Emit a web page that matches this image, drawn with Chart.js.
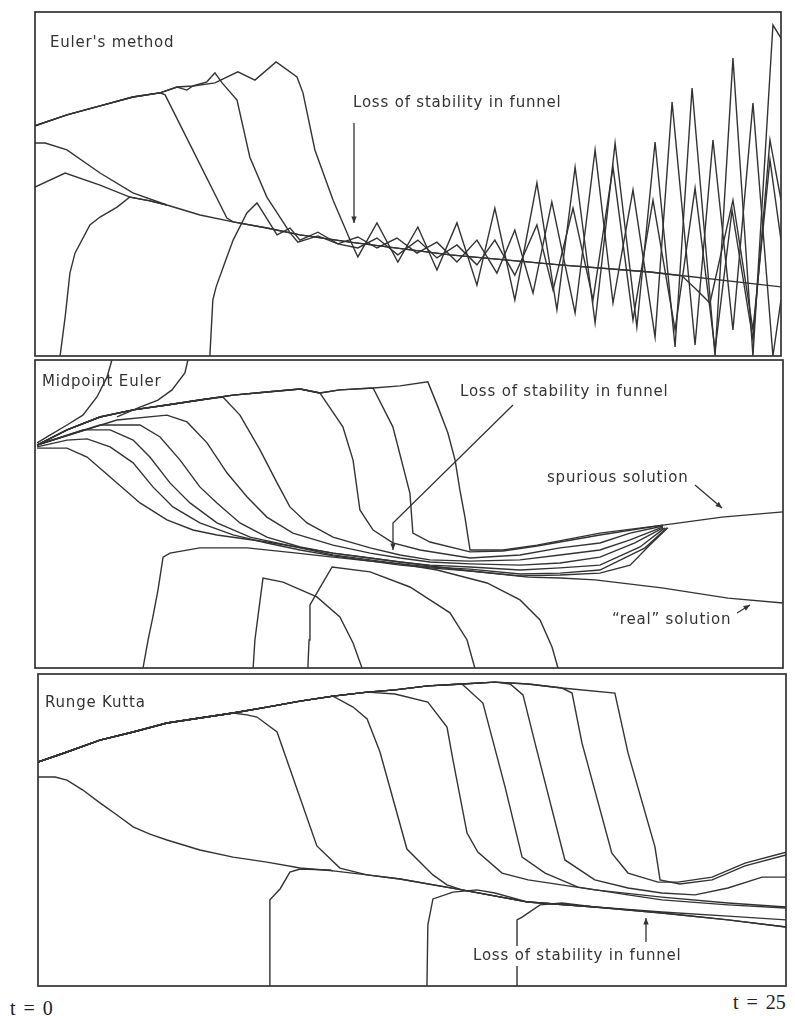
<!DOCTYPE html>
<html>
<head>
<meta charset="utf-8">
<script src="https://cdn.jsdelivr.net/npm/chart.js@4.4.1/dist/chart.umd.min.js"></script>
<style>
  body { margin: 0; background: #fff; width: 795px; height: 1016px; position: relative; overflow: hidden; }
  canvas { position: absolute; }
  .tlabel { position: absolute; font-family: "Liberation Serif", serif; font-size: 20px; color: #222; word-spacing: 3px; line-height: 20px; }
</style>
</head>
<body>
<canvas id="euler" width="750" height="348" style="left:33px;top:10px"></canvas>
<canvas id="midpoint" width="752" height="312" style="left:33px;top:358px"></canvas>
<canvas id="rk" width="752" height="316" style="left:36px;top:672px"></canvas>
<div class="tlabel" style="left:10px;top:998px">t = 0</div>
<div class="tlabel" style="left:733px;top:992px">t = 25</div>
<script>
// x is time t (0..25), y is the solution value on an arbitrary 0..100 scale per panel

// ---- Euler's method ----
const eulerFunnel = [[0,61.9],[0.34,61.9],[1.07,59.9],[2.18,53.2],[3.28,47.4],[4.42,43.9],[5.53,41.0],[6.64,39.0],[7.77,37.2],[8.88,35.2],[10.56,33.1],[13.91,29.4],[17.59,26.5],[20.61,24.4],[25,20.1]];
const eulerUpper = [[0,66.9],[1.07,70.1],[2.18,72.7],[3.28,75.3],[4.19,76.5],[4.76,78.2],[5.29,78.5],[6.03,79.4]];
const eulerDrop1 = [[4.36,75.9],[6.43,40.1],[6.64,39.0],[7.77,37.2],[8.88,35.2],[10.56,33.1],[13.91,29.4],[17.59,26.5],[20.61,24.4],[21.68,23.3],[22.18,19.2],[22.62,15.4],[23.39,45.3],[24.06,7.6],[24.63,57.0],[25,33.7]];
const eulerDrop2 = [[5.09,77.3],[5.29,78.5],[5.76,79.7],[6.03,82.3],[6.27,79.4],[6.77,74.4],[7.20,57.8],[7.77,46.2],[8.55,35.8],[8.81,33.1],[9.48,34.9],[10.15,32.6],[10.82,31.4],[11.46,34.3],[12.16,29.4],[12.83,33.7],[13.47,28.5],[14.14,32.3],[14.81,26.5],[15.41,33.7],[16.08,23.5],[16.82,38.1],[17.36,19.2],[18.03,43.0],[18.70,16.3],[19.37,54.9],[20.04,10.5],[20.71,45.3],[21.45,7.6],[22.12,48.8],[22.79,1.7],[23.36,42.4],[24.06,4.7],[24.63,62.8],[25,45.3]];
const eulerDrop3 = [[6.80,82.6],[7.37,80.2],[8.08,85.5],[8.78,81.1],[8.98,76.5],[9.38,59.9],[9.99,45.3],[10.56,33.7],[10.82,28.8],[11.46,38.7],[12.16,27.3],[12.83,37.5],[13.47,25.0],[14.14,38.7],[14.81,20.6],[15.41,43.0],[16.08,16.3],[16.82,50.3],[17.49,13.4],[18.10,54.9],[18.77,9.6],[19.44,61.9],[20.17,8.4],[20.78,62.2],[21.45,2.6],[22.02,77.9],[22.79,0],[23.39,86.6],[24.06,0],[24.73,96.2],[25,92.4]];
const eulerFromBelow = [[5.86,0],[5.96,16.3],[6.07,20.1],[6.37,27.3],[6.64,33.7],[7.10,41.6],[7.44,44.5],[8.11,35.2],[8.55,37.2],[8.88,33.7],[9.48,36.0],[10.15,32.6],[10.82,34.6],[11.46,31.4],[12.13,34.3],[12.80,29.9],[13.47,33.1],[14.14,27.3],[14.81,33.7],[15.48,24.1],[16.08,36.6],[16.69,18.3],[17.32,44.8],[18.10,12.5],[18.77,59.9],[19.37,15.4],[20.04,48.3],[20.78,5.5],[21.35,73.8],[22.12,3.2],[22.72,62.8],[23.39,7.6],[24.06,73.5],[24.73,0],[25,16.3]];
const eulerLowStart = [[0,49.1],[1.01,53.2],[2.18,49.7],[3.18,46.2],[3.85,45.1],[4.42,43.9]];
const eulerBottomLeft = [[0.84,0],[1.01,11.3],[1.17,24.1],[1.34,29.9],[1.84,38.1],[2.18,40.4],[2.75,43.3],[3.18,46.2],[3.85,45.1],[4.42,43.9]];

// ---- Midpoint Euler ----
const midUpper = [[0.07,72.4],[1.07,77.3],[2.17,81.5],[3.28,83.8],[4.41,85.4],[5.51,87.0],[6.62,88.6],[7.75,89.6],[8.86,90.6],[9.52,89.3],[10.19,90.3],[11.30,90.9],[12.20,91.6],[13.13,92.9]];
const midDrop9 = [[13.47,84.7],[13.80,76.3],[14.04,67.5],[14.20,57.8],[14.37,49.0],[14.54,38.3],[15.64,38.3],[16.78,39.9],[18.88,43.8],[20.99,46.4],[22.96,49.0],[25,50.7]];
const midDrop8 = [[11.96,78.3],[12.53,56.8],[12.63,43.8],[13.20,40.9],[14.54,37.7],[15.64,38.0],[16.78,39.6],[18.88,43.2],[20.99,46.4]];
const midDrop7 = [[10.29,78.3],[10.63,67.5],[10.86,51.3],[11.30,44.8],[11.96,40.6],[12.87,38.3],[14.54,35.7],[16.21,36.7],[17.55,39.0],[18.88,40.6],[19.89,43.8],[20.99,46.1]];
const midDrop6 = [[6.28,88.0],[6.85,82.1],[7.52,70.8],[8.09,60.1],[8.52,52.3],[9.09,47.1],[9.96,42.5],[11.20,39.0],[12.20,36.7],[13.20,35.1],[14.54,34.7],[16.21,35.1],[17.55,36.7],[18.88,38.3],[19.89,41.6],[20.99,45.8]];
const midFan5 = [[0.07,72.4],[2.74,80.5],[4.41,82.1],[5.08,79.9],[5.75,73.1],[6.42,63.3],[7.09,55.5],[7.75,49.0],[8.62,43.8],[9.96,39.9],[11.20,37.3],[12.20,35.7],[13.20,34.4],[14.54,33.8],[16.21,33.4],[17.55,34.1],[18.88,36.0],[20.05,40.6],[20.99,45.5]];
const midFan4 = [[0.07,72.4],[2.17,78.9],[3.51,78.9],[4.18,75.0],[4.85,67.5],[5.51,58.8],[6.08,53.6],[6.85,47.1],[7.75,42.5],[8.86,39.3],[9.96,37.3],[11.20,35.7],[12.20,34.4],[13.20,33.4],[14.54,32.8],[16.21,31.8],[17.55,32.5],[18.88,33.4],[20.22,39.3],[21.05,45.5]];
const midFan3 = [[0.07,72.4],[1.60,77.3],[2.51,77.3],[3.28,74.0],[3.84,68.5],[4.51,60.1],[5.18,53.6],[6.08,47.1],[7.19,42.5],[8.86,39.0],[9.96,36.7],[11.20,35.1],[12.20,33.8],[13.20,32.8],[14.54,32.1],[16.21,30.5],[17.55,30.8],[18.88,31.8],[20.39,39.0],[21.12,45.5]];
const midFan2 = [[0.07,71.8],[1.07,74.0],[1.74,74.4],[2.51,71.8],[3.28,66.6],[3.94,58.8],[4.61,52.3],[5.51,47.1],[6.62,43.2],[7.75,40.6],[8.86,38.3],[9.96,36.4],[12.20,33.4],[13.20,32.5],[14.54,31.5],[16.21,29.9],[17.55,30.2],[18.88,30.8],[19.89,33.4],[20.55,39.9],[21.15,45.5]];
const midReal = [[0.07,71.4],[1.07,71.4],[1.74,68.5],[2.51,62.0],[3.51,53.6],[4.41,48.1],[5.28,44.8],[6.08,43.2],[7.75,40.9],[9.96,37.3],[12.20,34.4],[14.27,31.8],[16.48,29.5],[17.55,29.2],[18.72,28.6],[20.95,26.0],[23.16,22.7],[25,21.1]];
const midBelow1 = [[3.61,0],[3.78,9.1],[3.94,16.6],[4.11,25.3],[4.28,36.0],[4.51,37.3],[5.51,39.0],[7.09,39.0],[8.76,37.3],[9.96,36.0],[11.20,34.7],[12.20,33.8],[13.44,31.8],[15.11,27.6],[16.21,22.1],[16.88,15.6],[17.28,6.8],[17.48,0]];
const midBelow2 = [[7.29,0],[7.35,9.1],[7.45,16.6],[7.62,29.2],[8.29,27.9],[9.42,23.1],[10.19,16.6],[10.63,8.1],[10.93,0]];
const midBelow3 = [[9.12,0],[9.16,9.1],[9.19,20.5],[9.52,26.0],[9.93,32.8],[11.20,31.2],[12.53,26.3],[13.87,17.9],[14.44,9.1],[14.70,0]];
const midAbove1 = [[2.57,100],[2.41,94.5],[2.07,88.0],[1.60,82.1],[1.07,78.9],[0.50,75.6],[0.07,73.1]];
const midAbove2 = [[5.11,100],[5.01,95.8],[4.58,90.3],[4.11,87.0],[3.51,84.7],[2.74,81.5]];

// ---- Runge Kutta ----
const rkUpper = [[0,71.8],[0.97,75.0],[2.07,78.8],[3.18,81.4],[4.31,84.3],[5.41,85.9],[6.52,87.5],[7.65,89.4],[8.76,91.3],[9.86,92.9],[11.00,94.2],[11.93,94.9],[13.03,96.2],[14.17,96.8],[15.27,97.4],[16.38,96.8],[17.51,95.5],[19.28,93.9]];
const rkFunnel = [[0,67.0],[0.57,67.0],[0.97,66.0],[1.50,62.8],[2.07,58.7],[2.64,54.8],[3.18,51.0],[3.74,48.7],[4.31,46.8],[5.41,43.6],[6.52,41.3],[7.65,39.7],[8.76,37.8],[9.86,36.9],[11.00,35.6],[12.10,34.3],[14.17,30.8],[16.38,26.9],[18.61,25.3],[20.85,23.4],[23.06,21.2],[25,18.9]];
const rkDrop1 = [[6.98,86.9],[7.32,86.2],[7.99,81.4],[9.32,44.9],[10.09,37.8],[11.00,35.6],[12.10,34.3],[14.17,30.8],[16.38,26.9],[18.61,25.3],[20.85,23.4],[23.06,21.2],[25,18.9]];
const rkDrop2 = [[10.53,89.4],[11.00,85.6],[11.43,75.0],[12.33,43.9],[13.20,35.6],[13.67,32.4],[14.17,30.8],[16.38,26.9],[18.61,25.3],[20.85,23.7],[23.06,22.4],[25,21.2]];
const rkDrop3 = [[11.93,93.6],[13.03,91.0],[13.67,83.0],[13.87,72.4],[14.34,49.0],[14.70,42.9],[15.51,36.2],[16.38,34.0],[18.61,30.8],[20.85,28.5],[23.06,26.6],[25,25.3]];
const rkDrop4 = [[14.87,90.7],[15.61,63.8],[16.18,41.3],[16.95,36.2],[18.05,31.7],[19.72,29.2],[20.85,27.6],[23.06,26.0],[25,25.0]];
const rkDrop5 = [[15.78,96.8],[16.21,93.3],[16.61,77.9],[17.61,40.4],[18.61,34.0],[19.72,31.4],[20.85,29.8],[21.96,29.2],[23.06,31.4],[24.20,34.9],[25,34.9]];
const rkDrop6 = [[17.85,93.9],[18.18,77.9],[19.18,42.6],[19.72,36.2],[20.72,33.3],[21.39,33.3],[22.53,34.9],[23.63,39.4],[25,42.9]];
const rkDrop7 = [[19.72,74.7],[20.62,44.6],[20.79,34.0],[21.45,32.7],[22.53,34.0],[23.63,38.5],[25,42.0]];
const rkBelow1 = [[7.75,0],[7.75,27.6],[8.09,31.1],[8.42,36.5],[8.76,37.5],[9.76,37.2],[9.86,36.9]];
const rkBelow2 = [[13.00,0],[13.03,19.6],[13.20,27.9],[13.87,30.1],[14.67,30.8],[15.27,29.8],[16.38,26.9]];
const rkBelow3 = [[16.01,0],[16.01,21.2],[16.18,22.1],[16.78,26.0],[17.51,26.6],[18.61,25.3]];

const ink = '#333';

function branch(base, tEnd, tail) {
  return base.filter(p => p[0] <= tEnd).concat(tail);
}

function curve(pts) {
  return {
    data: pts.map(p => ({ x: p[0], y: p[1] })),
    showLine: true,
    borderColor: ink,
    borderWidth: 1.4,
    pointRadius: 0,
    tension: 0,
    fill: false
  };
}

function arrowHead(ctx, a, b) {
  const ang = Math.atan2(b[1] - a[1], b[0] - a[0]);
  ctx.beginPath();
  ctx.moveTo(b[0], b[1]);
  ctx.lineTo(b[0] - 7 * Math.cos(ang - 0.4), b[1] - 7 * Math.sin(ang - 0.4));
  ctx.lineTo(b[0] - 7 * Math.cos(ang + 0.4), b[1] - 7 * Math.sin(ang + 0.4));
  ctx.closePath();
  ctx.fill();
}

// frame, labels and arrows; positions are offsets from the plot area's top left
const panelNotes = {
  id: 'notes',
  afterDatasetsDraw(chart, args, opts) {
    const ctx = chart.ctx, a = chart.chartArea;
    ctx.save();
    ctx.strokeStyle = ink;
    ctx.fillStyle = ink;
    ctx.lineWidth = 1.7;
    ctx.strokeRect(a.left, a.top, a.right - a.left, a.bottom - a.top);
    ctx.font = '15px "DejaVu Sans"';
    ctx.textBaseline = 'middle';
    if ('letterSpacing' in ctx) ctx.letterSpacing = '0.8px';
    (opts.labels || []).forEach(l => {
      if (l.clear) {
        const w = ctx.measureText(l.text).width;
        ctx.fillStyle = '#fff';
        ctx.fillRect(a.left + l.x - 4, a.top + l.y - 10, w + 8, 20);
        ctx.fillStyle = ink;
      }
      ctx.fillText(l.text, a.left + l.x, a.top + l.y);
    });
    ctx.lineWidth = 1.3;
    (opts.arrows || []).forEach(pts => {
      const p = pts.map(q => [a.left + q[0], a.top + q[1]]);
      ctx.beginPath();
      ctx.moveTo(p[0][0], p[0][1]);
      p.slice(1).forEach(q => ctx.lineTo(q[0], q[1]));
      ctx.stroke();
      arrowHead(ctx, p[p.length - 2], p[p.length - 1]);
    });
    ctx.restore();
  }
};

function makePanel(id, sets, notes) {
  new Chart(document.getElementById(id), {
    type: 'scatter',
    data: { datasets: sets.map(curve) },
    options: {
      responsive: false,
      animation: false,
      layout: { padding: 2 },
      scales: {
        x: { type: 'linear', min: 0, max: 25, display: false },
        y: { type: 'linear', min: 0, max: 100, display: false }
      },
      plugins: { legend: { display: false }, tooltip: { enabled: false }, notes: notes }
    },
    plugins: [panelNotes]
  });
}

makePanel('euler', [
  eulerFunnel,
  branch(eulerUpper, 4.19, eulerDrop1),
  branch(eulerUpper, 4.76, eulerDrop2),
  branch(eulerUpper, 6.03, eulerDrop3),
  eulerFromBelow,
  eulerLowStart,
  eulerBottomLeft
], {
  labels: [
    { text: "Euler's method", x: 15, y: 31 },
    { text: 'Loss of stability in funnel', x: 318, y: 91 }
  ],
  arrows: [[[319, 111], [319, 211]]]
});

makePanel('midpoint', [
  branch(midUpper, 13.13, midDrop9),
  branch(midUpper, 11.30, midDrop8),
  branch(midUpper, 9.52, midDrop7),
  branch(midUpper, 5.51, midDrop6),
  midFan5, midFan4, midFan3, midFan2, midReal,
  midBelow1, midBelow2, midBelow3,
  midAbove1, midAbove2
], {
  labels: [
    { text: 'Midpoint Euler', x: 7, y: 22 },
    { text: 'Loss of stability in funnel', x: 425, y: 32 },
    { text: 'spurious solution', x: 512, y: 118 },
    { text: '\u201creal\u201d solution', x: 577, y: 260 }
  ],
  arrows: [
    [[478, 45], [358, 163], [358, 190]],
    [[660, 125], [687, 148]],
    [[702, 253], [715, 245]]
  ]
});

makePanel('rk', [
  branch(rkUpper, 19.28, rkDrop7),
  rkFunnel,
  branch(rkUpper, 6.52, rkDrop1),
  branch(rkUpper, 9.86, rkDrop2),
  branch(rkUpper, 11.00, rkDrop3),
  branch(rkUpper, 14.17, rkDrop4),
  branch(rkUpper, 15.27, rkDrop5),
  branch(rkUpper, 17.51, rkDrop6),
  rkBelow1, rkBelow2, rkBelow3
], {
  labels: [
    { text: 'Runge Kutta', x: 7, y: 29 },
    { text: 'Loss of stability in funnel', x: 435, y: 282, clear: true }
  ],
  arrows: [[[608, 268], [608, 244]]]
});
</script>
</body>
</html>
